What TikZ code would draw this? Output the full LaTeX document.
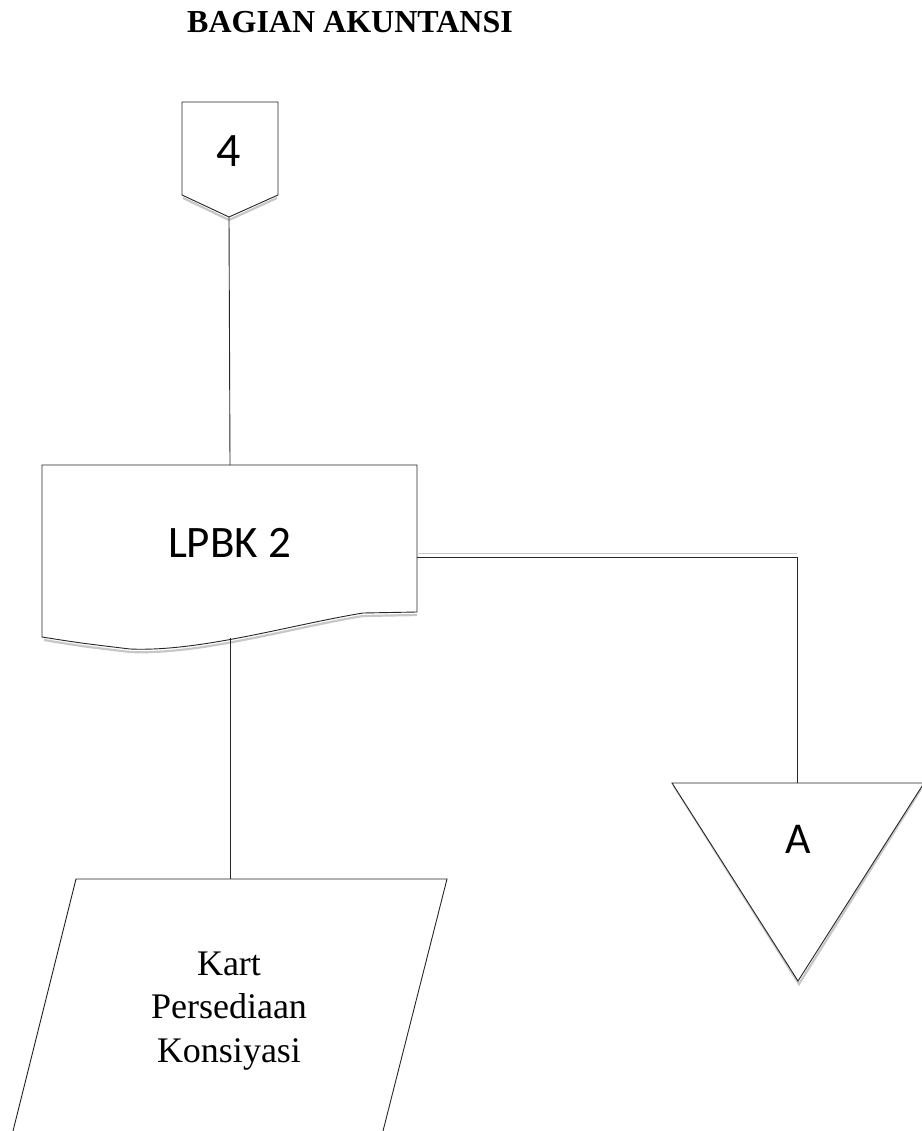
\documentclass[tikz,border=0pt]{standalone}
\usepackage{fontspec}
\setmainfont{Liberation Serif}
\newfontfamily\calib{Carlito}
\begin{document}
\begin{tikzpicture}[x=1pt,y=-1pt,
  outline/.style={draw=black!85,line width=0.9pt,line join=miter},
  shade line/.style={draw=black!22,line width=2.2pt},
  wire/.style={draw=black!85,line width=0.9pt},
  sanslabel/.style={inner sep=0pt,anchor=base,font=\calib},
  seriflabel/.style={inner sep=0pt,align=center,font=\fontsize{36}{43.5}\selectfont}]
\useasboundingbox (0,0) rectangle (921,1131);

% heading
\node[inner sep=0pt,anchor=base,font=\fontsize{32}{38}\selectfont\bfseries] (title) at (350,33) {BAGIAN AKUNTANSI};

% off-page connector "4"
\draw[shade line] (183,198) -- (229,220) -- (277,198);
\draw[outline,fill=white] (182,102) -- (278,102) -- (278,195) -- (229,217) -- (182,195) -- cycle;
\coordinate (opc-tip) at (229,217);
\node[sanslabel,font=\calib\fontsize{48}{56}\selectfont] (opc) at (229,167) {4};

% document LPBK 2
\draw[shade line] (44,640) .. controls (80,646) .. (130,652) .. controls (200,655) and (290,628) .. (363,616) -- (417,615);
\draw[outline,fill=white] (42,465) -- (417,465) -- (417,612)
  -- (363,613) .. controls (290,625) and (200,652) .. (130,649)
  .. controls (80,643) .. (42,637) -- cycle;
\coordinate (doc-top) at (230,465);
\coordinate (doc-bottom) at (230,638);
\coordinate (doc-east) at (417,557);
\node[sanslabel,font=\calib\fontsize{45}{54}\selectfont] (doc) at (229.5,557) {LPBK 2};

% off-page reference "A"
\draw[shade line] (674,786) -- (799,984) -- (921,789);
\draw[outline,fill=white] (672,783) -- (924,783) -- (798,981) -- cycle;
\coordinate (tri-top) at (797,783);
\node[sanslabel,font=\calib\fontsize{44}{52}\selectfont] (tri) at (798,853) {A};

% manual record card (the base anchor sits on the last text line)
\draw[outline] (13,1131) -- (76,879) -- (447,879) -- (383,1131);
\coordinate (card-top) at (230,879);
\node[seriflabel,anchor=base] (card) at (229,1062) {Kart\\Persediaan\\Konsiyasi};

% connectors
\draw[wire] (opc-tip) -- (doc-top);
\draw[wire] (doc-bottom) -- (card-top);
\draw[draw=black!20,line width=0.8pt] ([yshift=4]doc-east) -- ([yshift=4]doc-east -| tri-top);
\draw[wire] (doc-east) -| (tri-top);
\end{tikzpicture}
\end{document}
